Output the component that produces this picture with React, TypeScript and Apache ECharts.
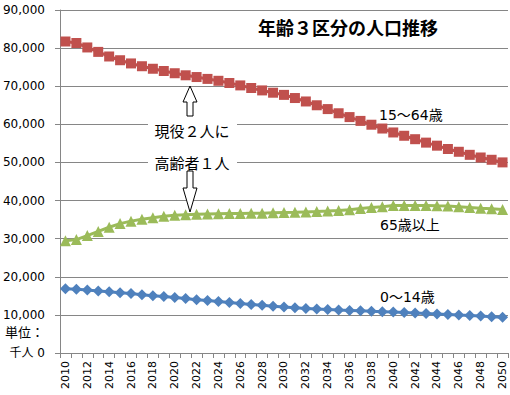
import React, { useEffect, useRef } from 'react';
import * as echarts from 'echarts';

const years = [
  '2010','2011','2012','2013','2014','2015','2016','2017','2018','2019',
  '2020','2021','2022','2023','2024','2025','2026','2027','2028','2029',
  '2030','2031','2032','2033','2034','2035','2036','2037','2038','2039',
  '2040','2041','2042','2043','2044','2045','2046','2047','2048','2049','2050',
];

const workingAge = [
  81735, 81342, 80173, 79010, 77803, 76818, 75979, 75245, 74584, 73997,
  73408, 72866, 72408, 71920, 71424, 70845, 70214, 69534, 68900, 68300,
  67730, 66900, 66000, 65000, 64000, 62904, 61900, 60900, 59900, 58900,
  57866, 57000, 56100, 55200, 54400, 53531, 52800, 52000, 51300, 50700, 50013,
];

const elderly = [
  29484, 29750, 30800, 31900, 33000, 33952, 34600, 35100, 35500, 35900,
  36124, 36300, 36400, 36500, 36550, 36573, 36600, 36650, 36700, 36780,
  36849, 36900, 37000, 37100, 37250, 37407, 37600, 37900, 38150, 38400,
  38678, 38700, 38700, 38680, 38620, 38564, 38400, 38200, 38000, 37850, 37676,
];

const children = [
  16839, 16700, 16500, 16300, 16100, 15827, 15600, 15300, 15000, 14800,
  14568, 14300, 14000, 13750, 13500, 13240, 13000, 12750, 12500, 12250,
  12039, 11850, 11700, 11550, 11400, 11287, 11180, 11070, 10960, 10850,
  10732, 10600, 10480, 10360, 10240, 10116, 9970, 9830, 9680, 9530, 9387,
];

const seriesNames = ['15～64歳', '65歳以上', '0～14歳'];
const titleText = '年齢３区分の人口推移';
const noteLines = ['現役２人に', '高齢者１人'];
const unitTop = '単位：';
const unitBottom = '千人';

const NUM_FONT = '"DejaVu Sans", "Noto Sans CJK JP", sans-serif';
const JP_FONT = '"Noto Sans CJK JP", sans-serif';
const GRID_COLOR = '#868686';

export default function App() {
  const ref = useRef<HTMLDivElement>(null);

  useEffect(() => {
    if (!ref.current) return;
    const chart = echarts.init(ref.current, undefined, { renderer: 'svg' });

    const mkSeries = (name: string, data: number[], color: string, symbol: string, size: number) => ({
      name,
      type: 'line',
      data,
      symbol,
      symbolSize: size,
      showAllSymbol: true,
      lineStyle: { color, width: 3 },
      itemStyle: { color },
      emphasis: { disabled: true },
    });

    chart.setOption({
      animation: false,
      backgroundColor: '#ffffff',
      grid: { left: 57, right: 2, top: 10, bottom: 42, containLabel: false },
      xAxis: {
        type: 'category',
        data: years,
        boundaryGap: true,
        axisLine: { lineStyle: { color: GRID_COLOR, width: 1 } },
        axisTick: { show: true, interval: 0, length: 5, alignWithLabel: false, lineStyle: { color: GRID_COLOR } },
        axisLabel: {
          interval: 1,
          rotate: 90,
          margin: 8,
          color: '#000',
          fontSize: 11,
          fontFamily: NUM_FONT,
        },
      },
      yAxis: {
        type: 'value',
        min: 0,
        max: 90000,
        interval: 10000,
        axisLine: { show: true, lineStyle: { color: GRID_COLOR, width: 1 } },
        axisTick: { show: true, length: 5, lineStyle: { color: GRID_COLOR } },
        splitLine: { show: true, lineStyle: { color: GRID_COLOR, width: 1 } },
        axisLabel: {
          margin: 15,
          color: '#000',
          fontSize: 12,
          fontFamily: NUM_FONT,
          formatter: (v: number) => (v === 0 ? unitBottom + ' 0' : v.toLocaleString('en-US')),
        },
      },
      series: [
        mkSeries(seriesNames[0], workingAge, '#C0504D', 'rect', 10),
        mkSeries(seriesNames[1], elderly, '#9BBB59', 'triangle', 11),
        mkSeries(seriesNames[2], children, '#4F81BD', 'diamond', 11),
      ],
      graphic: [
        {
          type: 'text', x: 348, y: 27, z: 100,
          style: { text: titleText, fontSize: 18, fontWeight: 'bold', fontFamily: JP_FONT, fill: '#000', align: 'center', verticalAlign: 'middle' },
        },
        {
          type: 'text', x: 379, y: 115, z: 100,
          style: { text: seriesNames[0], fontSize: 14, fontFamily: NUM_FONT, fill: '#000', align: 'left', verticalAlign: 'middle' },
        },
        {
          type: 'text', x: 380, y: 225, z: 100,
          style: { text: seriesNames[1], fontSize: 14, fontFamily: NUM_FONT, fill: '#000', align: 'left', verticalAlign: 'middle' },
        },
        {
          type: 'text', x: 380, y: 297, z: 100,
          style: { text: seriesNames[2], fontSize: 14, fontFamily: NUM_FONT, fill: '#000', align: 'left', verticalAlign: 'middle' },
        },
        {
          type: 'text', x: 5, y: 331, z: 100,
          style: { text: unitTop, fontSize: 13, fontFamily: JP_FONT, fill: '#000', align: 'left', verticalAlign: 'middle' },
        },
        {
          type: 'rect', z: 100,
          shape: { x: 148, y: 116, width: 89, height: 55 },
          style: { fill: '#ffffff', stroke: null },
        },
        {
          type: 'text', x: 192, y: 130, z: 101,
          style: { text: noteLines[0], fontSize: 15, fontFamily: JP_FONT, fill: '#000', align: 'center', verticalAlign: 'middle' },
        },
        {
          type: 'text', x: 192, y: 162, z: 101,
          style: { text: noteLines[1], fontSize: 15, fontFamily: JP_FONT, fill: '#000', align: 'center', verticalAlign: 'middle' },
        },
        {
          type: 'polygon', z: 102,
          shape: { points: [[187, 116], [187, 102], [183, 102], [190, 86], [197, 102], [193, 102], [193, 116]] },
          style: { fill: '#ffffff', stroke: '#000', lineWidth: 1 },
        },
        {
          type: 'polygon', z: 102,
          shape: { points: [[187, 171], [187, 188], [183, 188], [190, 212], [197, 188], [193, 188], [193, 171]] },
          style: { fill: '#ffffff', stroke: '#000', lineWidth: 1 },
        },
      ],
    });

    return () => chart.dispose();
  }, []);

  return (
    <div
      ref={ref}
      style={{ position: 'fixed', left: 0, top: 0, width: 510, height: 395 }}
    />
  );
}
